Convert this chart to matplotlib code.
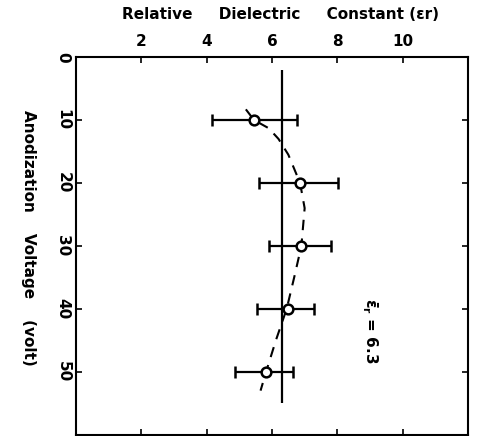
import matplotlib
matplotlib.use('Agg')
import matplotlib.pyplot as plt

# measured points (anodization voltage vs relative dielectric constant)
volts = [10, 20, 30, 40, 50]
eps_r = [5.45, 6.86, 6.9, 6.48, 5.82]
err_lo = [1.3, 1.27, 1.0, 0.95, 0.94]
err_hi = [1.33, 1.16, 0.9, 0.8, 0.82]

# hand drawn trend curve
curve_v = [8.3, 10, 11.3, 13, 15.5, 20, 24, 30, 35, 40, 45, 50, 53]
curve_eps = [5.2, 5.45, 5.9, 6.2, 6.5, 6.86, 7.0, 6.9, 6.68, 6.45, 6.12, 5.82, 5.65]

mean_eps = 6.3
mean_span = [2, 55]

x_ticks = [2, 4, 6, 8, 10]
y_ticks = [0, 10, 20, 30, 40, 50]

plt.rcParams['font.family'] = 'DejaVu Sans'
plt.rcParams['font.weight'] = 'bold'

fig = plt.figure(figsize=(4.78, 4.36), dpi=100)
ax = fig.add_axes([0.159, 0.003, 0.82, 0.866])

ax.vlines(mean_eps, mean_span[0], mean_span[1], color='black', lw=1.6)
ax.plot(curve_eps, curve_v, color='black', lw=1.5, dashes=(5, 4))
ax.errorbar(eps_r, volts, xerr=[err_lo, err_hi], fmt='o', color='black',
            mfc='white', mec='black', ms=7, mew=1.8, elinewidth=1.6,
            capsize=4, capthick=1.6, zorder=3)

ax.set_xlim(0, 12)
ax.set_ylim(60, 0)

ax.xaxis.tick_top()
ax.xaxis.set_label_position('top')
ax.set_xticks(x_ticks)
ax.set_yticks(y_ticks)
ax.tick_params(axis='both', direction='in', length=4, width=1.2,
               top=True, bottom=True, left=True, right=True, labelsize=11)
ax.tick_params(axis='x', pad=6)
ax.tick_params(axis='y', pad=4)
for lbl in ax.get_yticklabels():
    lbl.set_rotation(-90)
    lbl.set_va('center')

ax.set_xlabel('Relative     Dielectric     Constant (\u03b5r)', fontsize=11,
              fontweight='bold', labelpad=9)
ax.xaxis.set_label_coords(0.522, 1.1)
ax.set_ylabel('Anodization    Voltage    (volt)', fontsize=11,
              fontweight='bold', rotation=-90)
ax.yaxis.set_label_coords(-0.14, 0.52)

ax.text(9.0, 43.5, r'$\mathbf{\bar{\epsilon}_r}$ = 6.3', rotation=-90,
        ha='center', va='center', fontsize=11, fontweight='bold')

for s in ax.spines.values():
    s.set_linewidth(1.5)

fig.savefig('out.png', dpi=100)
